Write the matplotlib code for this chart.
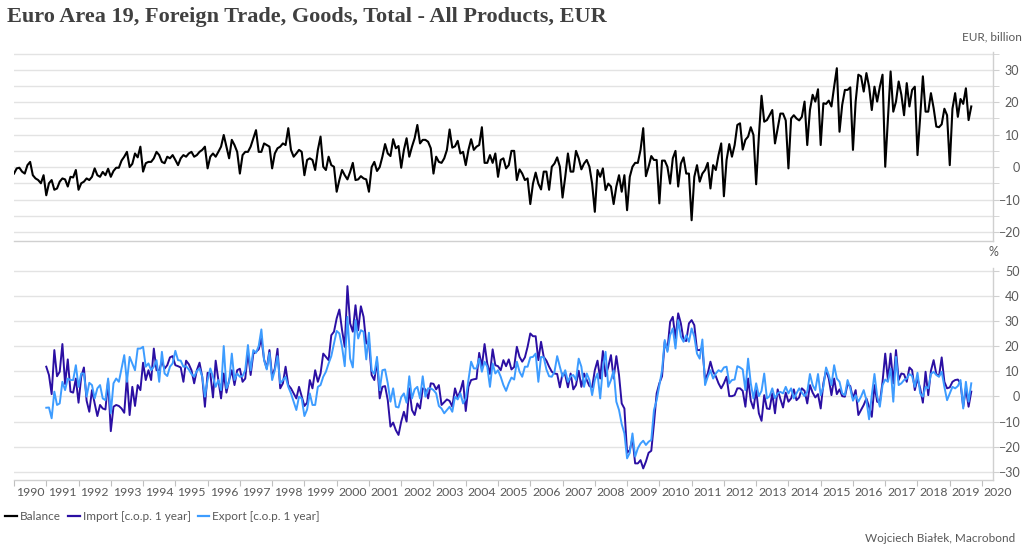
import numpy as np
import matplotlib.pyplot as plt
from matplotlib.ticker import MultipleLocator
from matplotlib.lines import Line2D

# Euro Area 19 foreign trade in goods, monthly
# balance: Jan 1990 .. Sep 2019, EUR billion
balance = [
    -2, -0.4, -0.2, -1.4, -2, 0.6, 1.6, -2.5, -3.5, -4, -5, -2.5,            # 1990
    -8.7, -5, -4, -7, -6.6, -4.5, -3.5, -3.8, -6, -3, -3.2, -0.9,            # 1991
    -7, -5, -4.5, -3.5, -4, -3, -0.4, -2.5, -3, -1.5, -2.5, -0.5,            # 1992
    -3, -1.2, -0.2, -0.2, 2, 3.2, 4.7, 0, 1, 4.2, 3, 6.3,                    # 1993
    -1.4, 1.2, 1.6, 1.6, 2.7, 4.7, 3.7, 1.6, 1.2, 3.2, 2.7, 3.7,             # 1994
    2.2, 0.6, 2.7, 3.7, 3.2, 4.2, 4.7, 3.2, 3.7, 4.7, 5.3, 6.3,              # 1995
    -0.4, 3.2, 4.2, 3.2, 4.7, 6.3, 9.9, 6.3, 2.7, 8.4, 6.8, 4.7,             # 1996
    -2, 3.7, 4.7, 4.7, 6.3, 8.9, 11.4, 4.7, 4.7, 7.3, 6.8, 6.3,              # 1997
    -0.4, 4.2, 5.8, 6.3, 7.3, 6.8, 12, 5.3, 3.2, 4.2, 5.3, 4.7,              # 1998
    -2.5, 2.2, 2.7, 2.2, -0.9, 5.3, 9.4, 0.1, -0.9, 3.2, 0.6, 0.1,           # 1999
    -7.6, -4, -0.9, -2.5, -3.8, -1.5, 1.3, -4, -3.8, -2.8, -3.5, -3.8,       # 2000
    -7.6, 0, 1.6, -1.2, 0, 3.2, 7.1, 4.2, 3.4, 8.6, 5.8, 6.5,                # 2001
    -0.2, 5.3, 8.9, 3.2, 6.3, 8.9, 13, 7.3, 8.4, 8.4, 7.8, 5.8,              # 2002
    -2, 3.2, 1.6, 1.3, 2.7, 5.3, 11.6, 6, 6.4, 8.1, 4.2, 4.7,                # 2003
    0.6, 5.3, 8.6, 5.3, 6.3, 6.8, 12.3, 1.3, 1.3, 3.7, 1.3, 4.2,             # 2004
    -3, 2.2, 2.7, -0.4, 0.6, 5, 5, -4, -0.7, -2, -4, -3.5,                   # 2005
    -11.4, -5.1, -1.7, -5.1, -6.9, -1.4, -1.4, -7, 0.1, 1.1, 3, 0.1,         # 2006
    -9.4, -3, 4.2, -1.4, -1.4, 5, 2.7, -0.7, 1.1, 2.2, 0.1, -5.1,            # 2007
    -13.8, -0.9, -3, -0.4, -7.1, -5.1, -6, -11.4, -6, -2.5, -7.6, -2.5,      # 2008
    -13.3, -3, 0.1, 1.3, 1.3, 5.3, 12, -2.8, 0.1, 3.4, 2.2, 2.2,             # 2009
    -11.2, 2, 2, 0.1, -5.1, 2.7, 5, -6, 1.1, 3, -2, -2,                      # 2010
    -16.4, -3, 0.6, -4.5, -2, -0.9, 1.3, -6.6, 0.6, -0.9, 3.7, 7.3,          # 2011
    -9, 2.2, 7.1, 3.2, 6.8, 13, 13.5, 5.4, 8.4, 9.4, 12.3, 9.9,              # 2012
    -5.3, 9.4, 22, 14, 14.5, 16, 17.6, 7.3, 11.9, 16.5, 16.5, 14.4,          # 2013
    -0.4, 15, 16, 15, 14.4, 15.5, 20.2, 6.8, 17.6, 22.3, 20.2, 24,           # 2014
    6.8, 19.7, 19.5, 20.5, 18.7, 24.8, 30.5, 10.9, 19.2, 23.8, 23.8, 24.6,   # 2015
    5.3, 20.2, 28.5, 28, 23.3, 29, 24.8, 17.6, 24.8, 20.2, 24.8, 28.5,       # 2016
    0.1, 15, 29.5, 17.1, 20.2, 26.4, 22.3, 16, 25.9, 18.7, 23.8, 24.8,       # 2017
    3.7, 15.5, 28, 17.1, 17.1, 22.8, 18.2, 12.5, 12.3, 13.2, 18, 16,         # 2018
    0.6, 18, 22.8, 15.5, 21, 19.5, 24.3, 14.5, 18.7,                         # 2019
]

# imports / exports, % change on same month a year earlier, Jan 1991 .. Sep 2019
imports = [
    11.8, 8.5, 0.9, 18.4, 8, 9.8, 20.8, 4.9, 14.7, 1.9, 1.5, 7.1,            # 1991
    -2.5, 7.8, 11.5, -1.7, -6.1, 2.5, -2.8, -7.8, -3.4, -4.8, -5.2, 6.2,     # 1992
    -13.8, -4.1, -3.4, -3.8, -4.8, -6.5, 7.8, -7.4, 3.8, -3.8, 4.5, 2.5,     # 1993
    13.4, 6.5, 10.4, 6.5, 19, 10.4, 10.4, 13.8, 11, 12.4, 15.5, 16,          # 1994
    12.4, 12, 11.5, 5.8, 14.2, 12.8, 10.4, 5.2, 10.4, 13.4, 7.8, -4.1,       # 1995
    9.4, 9.1, -0.4, 14.2, 6.5, -0.8, 9.1, 1.5, 6.5, 10.4, 4.5, 10.4,         # 1996
    11, 5.8, 7.1, 17.7, 8.5, 17, 17.7, 18.7, 23, 14.7, 11.1, 18.4,           # 1997
    7.8, 11.1, 18.9, 3.2, 5.2, 11.8, 4.5, 3.2, 1.2, -0.8, 3.8, 0,            # 1998
    -3.8, -2.5, 6.5, 3.2, 10.4, 5.8, 9.1, 17, 15.7, 14.4, 24.3, 25.7,        # 1999
    31, 34.5, 26.3, 19.7, 43.8, 29, 25.7, 36.2, 26.3, 35.8, 31.6, 21,        # 2000
    21.7, 8.5, 6.5, 14.2, -0.8, 3.8, 4.1, -1.5, -12, -10.4, -13.4, -15.3,    # 2001
    -10, -6.1, -10, 3.2, -5.4, -7.4, -2.8, -4.8, 3.2, 2.8, -0.8, 5.2,        # 2002
    5, 2.8, 4.5, -3.4, -2.3, -1.2, -1.8, -4.1, 3.2, -0.4, 2.2, 6.2,          # 2003
    -5.8, 3.8, 6.5, 6.8, 7, 17.3, 12, 20.8, 13.1, 8.9, 18.7, 12.4,           # 2004
    12, 10.4, 14.4, 12, 14.7, 10.7, 11.7, 19.7, 15.7, 13.8, 15.5, 19.7,      # 2005
    25, 23.9, 23.9, 14.4, 21.7, 15.7, 14.2, 11.8, 9.8, 9.1, 8.9, 3.6,        # 2006
    9.1, 8.5, 3.6, 9.1, 2.8, 4.5, 10.2, 3.8, 9.1, 6.5, 4.1, 3.6,             # 2007
    10.4, 14.2, 7.1, 18, 8, 11.8, 16.4, 7.1, 16, 8.5, -2.8, -4.8,            # 2008
    -22.4, -21.3, -16.7, -26.6, -26.6, -25.3, -28.6, -25.9, -22.4, -21.6, -10.7, 1.2,  # 2009
    5.2, 8, 21.7, 18.4, 29.6, 31.6, 23, 33, 29, 22.4, 22, 29,                # 2010
    30.3, 28.3, 18.4, 18.4, 19.4, 6.5, 9.1, 13.8, 9.8, 8, 5.2, 3.2,          # 2011
    5.2, 7.8, 0.1, 0.1, 0.5, 3.2, 3.2, 2.2, -4.1, 7.1, -1.7, -4.8,           # 2012
    2.5, -6.7, -9.7, 0.5, -4.8, -5, 1.2, -6.7, 2.8, -1, -4.4, 1.5,           # 2013
    -2.1, -0.8, 2.8, -1.5, -0.4, 3.2, 2.2, -2.8, 4.5, 1.5, -0.4, 0.9,        # 2014
    -4.8, 5.2, 10.4, 7.1, 0.5, 7.1, 0.9, 2.8, 0.1, -0.1, 4.9, 4.1,           # 2015
    -0.8, 2.5, -7.4, -5.4, -3.4, -0.8, -4.1, -8.1, 4.5, -2.1, -2.5, 5.8,     # 2016
    17, 6.5, 17, 5.2, 18.4, 6.5, 9.1, 8.8, 5.8, 11.5, 10.4, 2.5,             # 2017
    7.1, 3.2, -2.5, 9.8, 0.5, 10.2, 14.4, 8.9, 8, 15.5, 5.8, 3.2,            # 2018
    3.6, 5.8, 6.5, 6.7, 5.2, -4.1, 3.2, -4.1, 1.9,                           # 2019
]

exports = [
    -4.5, -4.4, -8.7, 1.9, -3.4, -2.8, 5.8, 2.5, 7.1, 6.5, 6.5, 12.4,        # 1991
    3.8, 9.1, 9.1, -0.1, 5.4, 4.5, -0.8, 3.2, 4.5, -0.8, -1.5, 7.1,          # 1992
    -6.7, 5.2, 7.1, 5.8, 11.1, 16.4, 5.8, 15.7, 13.1, 10.4, 19, 19,          # 1993
    19.7, 11.8, 13.1, 10.4, 11.8, 14.4, 5.8, 17.7, 9.1, 8.1, 11.8, 13.1,     # 1994
    18.1, 14.4, 14.2, 11.8, 12, 10.7, 8.9, 7.8, 10.1, 11.1, 7.8, -0.1,       # 1995
    6.5, 11.1, 7.8, 3.8, 6.5, 2.5, 20, 3.2, 5.8, 17, 6.5, 9.1,               # 1996
    7.8, 8.1, 10.4, 20.4, 10.4, 18.4, 17.3, 20, 26.6, 14.4, 10.7, 17.3,      # 1997
    6.5, 10.4, 16, 5.2, 6.5, 7.8, 3.8, 1.2, -2.1, -5.4, -0.1, -0.8,          # 1998
    -7.8, -5.2, 1.2, -3.4, -3.4, 3.8, 4.5, 7.8, 9.8, 13.1, 16, 21,           # 1999
    26, 25, 19.7, 12, 31.6, 15, 11.5, 30.3, 23, 26.3, 25.7, 14.7,            # 2000
    25.3, 10.4, 8.9, 15.7, 2.5, 10.4, 10.7, 5.2, -2.1, 3.2, -4.1, -4.4,      # 2001
    -0.3, 1.2, -2.5, 8, -0.8, 2.8, 3.8, -0.8, 8, -0.1, 3.2, 3.2,             # 2002
    2.5, 1.2, -3.8, -4.8, -6.7, -5.4, -4.1, -6.1, -0.1, -1.2, 1.2, -2.8,     # 2003
    -0.8, 6.5, 13.8, 11.1, 11.1, 15, 9.8, 13.8, 11.8, 3.8, 13.1, 9.1,        # 2004
    10.4, 7.8, 4.5, 2.2, 5.2, 7.5, 6.7, 13.8, 9.8, 7.8, 11.8, 11.8,          # 2005
    15.5, 15.7, 17, 5.8, 15.7, 15.5, 10.7, 8, 7.8, 9.8, 16, 11.8,            # 2006
    7.8, 10.4, 5.8, 8, 8.5, 6.5, 15, 11.8, 3.8, 9.1, 6.5, 0.5,               # 2007
    6.5, 9.1, -0.8, 11.5, 17.7, 3.8, 6.5, 10.4, -2.1, -5.4, -11, -14.7,      # 2008
    -24.6, -22.4, -14.7, -23.9, -20.6, -18.7, -17.6, -19.3, -18, -17.3, -5.4, -1.5,  # 2009
    4.5, 10.4, 22.4, 17.7, 24.3, 27, 19, 30.3, 23.7, 21.7, 24.3, 21.7,       # 2010
    27, 23.7, 17, 15, 22.6, 4.5, 7.8, 10.4, 7.1, 9.1, 10.4, 9.8,             # 2011
    11.5, 11.8, 5.2, 6.5, 6.7, 12, 11.5, 10.7, 2.5, 15, 5.2, -0.8,           # 2012
    5.2, 0.1, 2.2, 9.1, -0.8, 0.1, 3.2, -0.8, 1.2, 1.8, 1.2, 3.8,            # 2013
    1.2, 3.2, -0.8, 1.2, 3.2, 1.5, 0.1, 1.8, 8.9, 4.5, 2.5, 8.9,             # 2014
    0.5, 3.8, 11.5, 8.5, 4.5, 12.4, 7.1, 5.8, 1.2, 0.5, 6.5, 3.2,            # 2015
    -1.7, 0.5, -2.1, -0.1, 2.5, -1.5, -9.1, 0.5, 8.9, 0.1, -4.1, 4.5,        # 2016
    6.7, 5.8, 11.1, -2.1, 15.7, 4.5, 5.2, 6.5, 7.1, 8.9, 8.1, 3.8,           # 2017
    9.4, 1.2, -0.1, 3.8, 3.2, 8.9, 9.8, 8.5, 7.8, 9.8, 3.8, -1.5,            # 2018
    1.2, 3.8, 3.2, 4.1, 6.5, -4.8, 5.8, -2.1, 5.2,                           # 2019
]

years = list(range(1990, 2021))

title = "Euro Area 19, Foreign Trade, Goods, Total - All Products, EUR"
series_names = ["Balance", "Import [c.o.p. 1 year]", "Export [c.o.p. 1 year]"]
colors = ["#000000", "#2b0fa3", "#3d9cff"]

# decimal-year positions of the monthly observations
t_bal = 1990 + np.arange(len(balance)) / 12
t_trade = 1991 + np.arange(len(imports)) / 12

GRID = "#e3e3e3"
AXIS = "#d0d0d0"
TXT = "#595959"
FS = 8.5
plt.rcParams["font.family"] = ["Lato", "DejaVu Sans"]

W, H = 1024, 554
fig = plt.figure(figsize=(W / 100, H / 100), dpi=100)
ax1 = fig.add_axes([14 / W, 1 - 241 / H, (993 - 14) / W, (241 - 52) / H])
ax2 = fig.add_axes([14 / W, 1 - 480 / H, (993 - 14) / W, (480 - 268) / H])

ax1.plot(t_bal, balance, color=colors[0], lw=1.5)
ax2.plot(t_trade, imports, color=colors[1], lw=1.4)
ax2.plot(t_trade, exports, color=colors[2], lw=1.4)

ax1.set_ylim(-22.8, 35.5)
ax2.set_ylim(-33.2, 51)

for ax in (ax1, ax2):
    ax.set_xlim(1990, 2020.34)
    for s in ("left", "top"):
        ax.spines[s].set_visible(False)
    for s in ("right", "bottom"):
        ax.spines[s].set_color(AXIS)
        ax.spines[s].set_linewidth(1)
    ax.yaxis.tick_right()
    ax.yaxis.set_major_locator(MultipleLocator(10))
    ax.tick_params(axis="y", which="both", length=4, color=AXIS,
                   labelsize=9, labelcolor=TXT, pad=15)
    ax.set_axisbelow(True)

ax1.yaxis.set_minor_locator(MultipleLocator(5))
ax1.grid(axis="y", which="both", color=GRID, lw=1)
ax2.grid(axis="y", which="major", color=GRID, lw=1)

ax1.tick_params(axis="x", length=0, labelbottom=False)
ax2.xaxis.set_major_locator(MultipleLocator(1))
ax2.tick_params(axis="x", length=4, color="#bfbfbf", labelbottom=False)

fig.canvas.draw()
for ax in (ax1, ax2):
    for lbl in ax.get_yticklabels():
        lbl.set_horizontalalignment("right")

# year labels centred between the yearly ticks
for y in years:
    ax2.text(y + 0.5, -0.035, str(y), transform=ax2.get_xaxis_transform(),
             ha="center", va="top", fontsize=FS + 0.3, color=TXT, clip_on=False)

fig.text(7 / W, 1 - 17 / H, title, fontsize=16, fontweight="bold",
         family="Liberation Serif", color="#404040", va="center")
fig.text(1022 / W, 1 - 37 / H, "EUR, billion", ha="right", va="center",
         fontsize=FS, color=TXT)
fig.text(993 / W, 1 - 252 / H, "%", ha="center", va="center",
         fontsize=FS + 0.5, color=TXT)

handles = [Line2D([], [], color=c, lw=1.6) for c in colors]
fig.legend(handles, series_names, loc="center left",
           bbox_to_anchor=(5 / W, 1 - 517 / H), ncol=3, frameon=False,
           handlelength=1.0, handletextpad=0.25, columnspacing=0.6,
           fontsize=FS, labelcolor=TXT, borderaxespad=0, borderpad=0)

fig.text(1015 / W, 1 - 538 / H, "Wojciech Białek, Macrobond", ha="right",
         va="center", fontsize=FS, color=TXT)

fig.savefig("out.png", dpi=100)
